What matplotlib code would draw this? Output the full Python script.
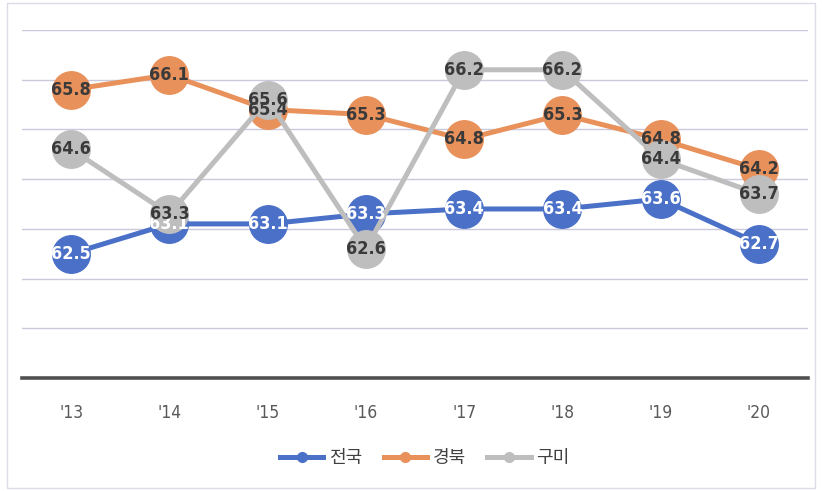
import matplotlib
matplotlib.use("Agg")
import matplotlib.pyplot as plt
from matplotlib.patches import Rectangle
from matplotlib.lines import Line2D

years = ["'13", "'14", "'15", "'16", "'17", "'18", "'19", "'20"]
series_names = ["전국", "경북", "구미"]
national = [62.5, 63.1, 63.1, 63.3, 63.4, 63.4, 63.6, 62.7]
gyeongbuk = [65.8, 66.1, 65.4, 65.3, 64.8, 65.3, 64.8, 64.2]
gumi = [64.6, 63.3, 65.6, 62.6, 66.2, 66.2, 64.4, 63.7]

colors = ["#4A70C8", "#E8915B", "#BEBEBE"]
label_colors = ["white", "#3A3A3A", "#3A3A3A"]

plt.rcParams['font.family'] = ['Noto Sans CJK KR', 'DejaVu Sans']

fig = plt.figure(figsize=(8.23, 4.91), dpi=100)
ax = fig.add_axes([22/823, 1-378/491, (808-22)/823, (378-30)/491])

x = list(range(len(years)))
ax.set_xlim(-0.5, len(years) - 0.5)
ax.set_ylim(60, 67)

for yv in range(61, 68):
    ax.axhline(yv, color="#CACADC", lw=1.0, zorder=0)
ax.axhline(60, color="#505050", lw=2.6, zorder=1, clip_on=False)

num_font = ['DejaVu Sans']
all_series = [national, gyeongbuk, gumi]
for i, vals in enumerate(all_series):
    ax.plot(x, vals, color=colors[i], lw=3.6, marker='o', markersize=27,
            markerfacecolor=colors[i], markeredgecolor=colors[i], zorder=2 + i,
            solid_capstyle='round')
for i, vals in enumerate(all_series):
    for xi, v in zip(x, vals):
        ax.text(xi, v, f"{v:.1f}", ha='center', va='center', fontsize=13,
                fontweight='bold', fontstretch='condensed',
                color=label_colors[i], family=num_font, zorder=10)

ax.set_xticks(x)
ax.set_xticklabels(years, fontsize=12.5, color="#595959", family=num_font,
                   fontstretch='condensed')
ax.tick_params(axis='x', length=0, pad=19)
ax.set_yticks([])
for s in ax.spines.values():
    s.set_visible(False)

handles = [Line2D([0], [0], color=c, lw=3.6, marker='o', markersize=7,
                  markerfacecolor=c, markeredgecolor=c) for c in colors]
fig.legend(handles, series_names, loc='center', bbox_to_anchor=(0.516, 1-458/491),
           ncol=3, frameon=False, fontsize=13, handlelength=2.4, handletextpad=0.3,
           columnspacing=1.2, labelcolor="#404040")

fig.patches.append(Rectangle((7/823, 3/491), (815-7)/823, (488-3)/491,
                             transform=fig.transFigure, fill=False,
                             edgecolor="#DCDCE8", lw=1))

fig.savefig("out.png", dpi=100)
